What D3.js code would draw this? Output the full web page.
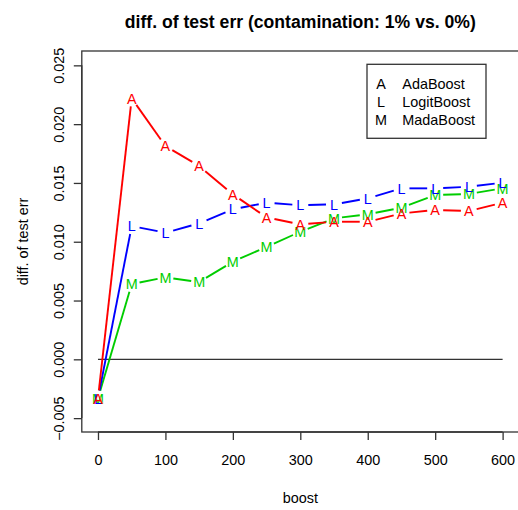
<!DOCTYPE html>
<html>
<head>
<meta charset="utf-8">
<script src="https://cdn.jsdelivr.net/npm/d3@7"></script>
<style>
  html, body { margin: 0; padding: 0; background: #fff; }
  svg { display: block; }
  text { font-family: "Liberation Sans", Arial, Helvetica, sans-serif; }
</style>
</head>
<body>
<svg id="chart" width="518" height="510"></svg>
<script>
// ---- data ----
const boost = [0, 50, 100, 150, 200, 250, 300, 350, 400, 450, 500, 550, 600];
const adaBoost   = [-0.00332, 0.02219, 0.01814, 0.01644, 0.01403, 0.01207, 0.01148, 0.01170, 0.01170, 0.01241, 0.01270, 0.01261, 0.01332];
const logitBoost = [-0.00332, 0.01133, 0.01077, 0.01156, 0.01276, 0.01332, 0.01310, 0.01318, 0.01369, 0.01454, 0.01454, 0.01468, 0.01502];
const madaBoost  = [-0.00332, 0.00640, 0.00697, 0.00657, 0.00830, 0.00957, 0.01085, 0.01199, 0.01233, 0.01289, 0.01397, 0.01406, 0.01454];
const seriesNames = ["AdaBoost", "LogitBoost", "MadaBoost"];
const seriesSymbols = ["A", "L", "M"];
const xTicks = [0, 100, 200, 300, 400, 500, 600];
const yTicks = [-0.005, 0.000, 0.005, 0.010, 0.015, 0.020, 0.025];
const titleText = "diff. of test err (contamination: 1% vs. 0%)";
const xLabel = "boost";
const yLabel = "diff. of test err";

// ---- layout ----
const colors = ["#FF0000", "#0000FF", "#00CD00"];
const plot = { left: 81.8, right: 518.8, top: 51, bottom: 432 };
const fs = 14.4;
const svg = d3.select("#chart");

const x = d3.scaleLinear().domain([-24, 624]).range([plot.left, plot.right]);
const y = d3.scaleLinear().domain([-0.00618, 0.02622]).range([plot.bottom, plot.top]);

const axisColor = "#333";

// zero line
svg.append("line")
  .attr("x1", x(0)).attr("x2", x(600))
  .attr("y1", y(0)).attr("y2", y(0))
  .attr("stroke", axisColor).attr("stroke-width", 1.3);

// series
const allSeries = [adaBoost, logitBoost, madaBoost];
const gap = 8;
const order = [2, 1, 0];
order.forEach(si => {
  const vals = allSeries[si];
  const pts = boost.map((b, i) => [x(b), y(vals[i])]);
  const g = svg.append("g");
  for (let i = 0; i < pts.length - 1; i++) {
    const [x1, y1] = pts[i], [x2, y2] = pts[i + 1];
    const dx = x2 - x1, dy = y2 - y1, len = Math.hypot(dx, dy);
    if (len <= 2 * gap) continue;
    const ux = dx / len, uy = dy / len;
    g.append("line")
      .attr("x1", x1 + ux * gap).attr("y1", y1 + uy * gap)
      .attr("x2", x2 - ux * gap).attr("y2", y2 - uy * gap)
      .attr("stroke", colors[si]).attr("stroke-width", 1.9);
  }
  g.selectAll("text.pt").data(pts).enter().append("text")
    .attr("class", "pt")
    .attr("x", d => d[0]).attr("y", d => d[1] + 5.2)
    .attr("text-anchor", "middle")
    .attr("font-size", fs)
    .attr("fill", colors[si])
    .text(seriesSymbols[si]);
});

// box
svg.append("rect")
  .attr("x", plot.left).attr("y", plot.top)
  .attr("width", plot.right - plot.left).attr("height", plot.bottom - plot.top)
  .attr("fill", "none").attr("stroke", axisColor).attr("stroke-width", 1.3);

// x axis
const xAxis = d3.axisBottom(x).tickValues(xTicks).tickSize(8).tickPadding(0).tickFormat(d3.format("d"));
const gx = svg.append("g").attr("transform", `translate(0,${plot.bottom})`).call(xAxis);
gx.select(".domain").attr("d", `M${x(0)},0H${x(600)}`).attr("stroke", axisColor).attr("stroke-width", 1.3);
gx.selectAll(".tick line").attr("stroke", axisColor).attr("stroke-width", 1.3);
gx.selectAll(".tick text").attr("font-size", fs).attr("fill", "#000")
  .attr("font-family", '"Liberation Sans", Arial, sans-serif')
  .attr("dy", null).attr("y", 465 - plot.bottom);

// y axis
const fmtY = v => (v < 0 ? "\u2212" : "") + Math.abs(v).toFixed(3);
const yAxis = d3.axisLeft(y).tickValues(yTicks).tickSize(8).tickFormat(fmtY);
const gy = svg.append("g").attr("transform", `translate(${plot.left},0)`).call(yAxis);
gy.select(".domain").attr("d", `M0,${y(-0.005)}V${y(0.025)}`).attr("stroke", axisColor).attr("stroke-width", 1.3);
gy.selectAll(".tick line").attr("stroke", axisColor).attr("stroke-width", 1.3);
gy.selectAll(".tick text")
  .attr("font-size", fs).attr("fill", "#000")
  .attr("font-family", '"Liberation Sans", Arial, sans-serif')
  .attr("x", null).attr("dy", null).attr("y", null)
  .attr("text-anchor", "middle")
  .attr("transform", `translate(${63.5 - plot.left},0) rotate(-90)`);

// title
svg.append("text")
  .attr("x", (plot.left + plot.right) / 2).attr("y", 27.5)
  .attr("text-anchor", "middle").attr("font-size", 17.6).attr("font-weight", "bold")
  .text(titleText);

// axis labels
svg.append("text")
  .attr("x", (plot.left + plot.right) / 2).attr("y", 503)
  .attr("text-anchor", "middle").attr("font-size", fs)
  .text(xLabel);
svg.append("text")
  .attr("transform", `translate(28.3,${(plot.top + plot.bottom) / 2}) rotate(-90)`)
  .attr("text-anchor", "middle").attr("font-size", fs)
  .text(yLabel);

// legend
const leg = svg.append("g");
leg.append("rect")
  .attr("x", 367).attr("y", 64.3).attr("width", 119).attr("height", 74)
  .attr("fill", "#fff").attr("stroke", axisColor).attr("stroke-width", 1.3);
const rowY = [83.7, 101.6, 120.2];
seriesNames.forEach((name, i) => {
  leg.append("text").attr("x", 381).attr("y", rowY[i] + 5.2)
    .attr("text-anchor", "middle").attr("font-size", fs).text(seriesSymbols[i]);
  leg.append("text").attr("x", 402.3).attr("y", rowY[i] + 5.2)
    .attr("font-size", fs).text(name);
});
</script>
</body>
</html>
